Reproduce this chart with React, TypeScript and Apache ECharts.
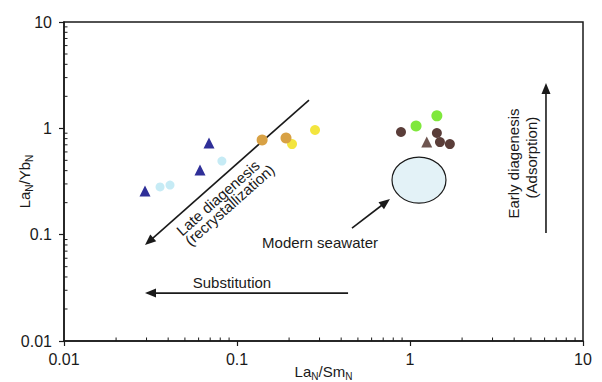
import React, { useEffect, useRef } from "react";
import * as echarts from "echarts";

// ---- axis setup ----
const axisMin = 0.01;
const axisMax = 10;
const tickLabels = ["0.01", "0.1", "1", "10"];
const minorMultipliers = [2, 3, 4, 5, 6, 7, 8, 9];
const decades = [0.01, 0.1, 1];

// ---- data (LaN/SmN, LaN/YbN) ----
const navyTriangles = [
  [0.0294, 0.257],
  [0.0611, 0.405],
  [0.0689, 0.728],
];
const cyanCircles = [
  [0.0359, 0.281],
  [0.041, 0.293],
  [0.0818, 0.492],
];
const yellowCircles = [
  [0.208, 0.711],
  [0.2825, 0.964],
];
const orangeCircles = [
  [0.1397, 0.776],
  [0.192, 0.811],
];
const brownCircles = [
  [0.887, 0.923],
  [1.43, 0.904],
  [1.49, 0.743],
  [1.7, 0.711],
];
const greenCircles = [
  [1.084, 1.05],
  [1.43, 1.31],
];
const brownTriangles = [[1.25, 0.743]];

// ---- annotations (data coordinates) ----
const lateDiagenesisArrow = [
  [0.2607, 1.845],
  [0.0294, 0.0798],
];
const substitutionArrow = [
  [0.4385, 0.0282],
  [0.0294, 0.0282],
];
const seawaterArrow = [
  [0.462, 0.1153],
  [0.766, 0.2163],
];
const earlyDiagenesisArrow = [
  [6.11, 0.1035],
  [6.11, 2.668],
];
const seawaterEllipse = [
  [0.787, 0.198],
  [1.614, 0.537],
];
const annotationTexts = [
  { text: "Late diagenesis", at: [0.0776, 0.2223], angle: 41.5 },
  { text: "(recrystallization)", at: [0.0906, 0.1903], angle: 41.5 },
  { text: "Modern seawater", at: [0.302, 0.0851], angle: 0 },
  { text: "Substitution", at: [0.0935, 0.0358], angle: 0 },
  { text: "Early diagenesis", at: [3.94, 0.4667], angle: 90 },
  { text: "(Adsorption)", at: [5.006, 0.531], angle: 90 },
];

const FONT = "'Liberation Sans', Arial, Helvetica, sans-serif";
const INK = "#1a1a1a";

export default function App() {
  const ref = useRef<HTMLDivElement>(null);

  useEffect(() => {
    if (!ref.current) return;
    const chart = echarts.init(ref.current, null, { renderer: "svg" });

    const minorValues: number[] = [];
    decades.forEach((d) => minorMultipliers.forEach((m) => minorValues.push(+(d * m).toPrecision(3))));

    const fmt = (v: number) => {
      const idx = Math.round(Math.log10(v) - Math.log10(axisMin));
      return tickLabels[idx] ?? String(v);
    };

    const renderAnnotations = (_params: any, api: any) => {
      const P = (p: number[]) => api.coord(p);
      const children: any[] = [];
      const arrow = (from: number[], to: number[]) => {
        const a = P(from);
        const b = P(to);
        const dx = b[0] - a[0];
        const dy = b[1] - a[1];
        const len = Math.hypot(dx, dy);
        const ux = dx / len;
        const uy = dy / len;
        const hl = 11;
        const hw = 4.5;
        const bx = b[0] - ux * hl;
        const by = b[1] - uy * hl;
        children.push({
          type: "line",
          shape: { x1: a[0], y1: a[1], x2: bx + ux * 2, y2: by + uy * 2 },
          style: { stroke: INK, lineWidth: 1.6 },
        });
        children.push({
          type: "polygon",
          shape: {
            points: [
              [b[0], b[1]],
              [bx - uy * hw, by + ux * hw],
              [bx + uy * hw, by - ux * hw],
            ],
          },
          style: { fill: INK },
        });
      };
      const e1 = P(seawaterEllipse[0]);
      const e2 = P(seawaterEllipse[1]);
      children.push({
        type: "ellipse",
        shape: {
          cx: (e1[0] + e2[0]) / 2,
          cy: (e1[1] + e2[1]) / 2,
          rx: Math.abs(e2[0] - e1[0]) / 2,
          ry: Math.abs(e2[1] - e1[1]) / 2,
        },
        style: { fill: "#e3f2f7", stroke: INK, lineWidth: 1.2 },
      });
      arrow(lateDiagenesisArrow[0], lateDiagenesisArrow[1]);
      arrow(substitutionArrow[0], substitutionArrow[1]);
      arrow(seawaterArrow[0], seawaterArrow[1]);
      arrow(earlyDiagenesisArrow[0], earlyDiagenesisArrow[1]);
      annotationTexts.forEach((t) => {
        const p = P(t.at);
        children.push({
          type: "text",
          x: p[0],
          y: p[1],
          rotation: (t.angle * Math.PI) / 180,
          style: {
            text: t.text,
            fontSize: 15,
            fontFamily: FONT,
            fill: INK,
            align: "center",
            verticalAlign: "middle",
          },
        });
      });
      return { type: "group", children };
    };

    const renderMinorTicks = (params: any, api: any) => {
      const v = minorValues[params.dataIndex];
      const px = api.coord([v, axisMin]);
      const py = api.coord([axisMin, v]);
      return {
        type: "group",
        children: [
          {
            type: "line",
            shape: { x1: px[0], y1: px[1], x2: px[0], y2: px[1] - 3.5 },
            style: { stroke: INK, lineWidth: 1 },
          },
          {
            type: "line",
            shape: { x1: py[0], y1: py[1], x2: py[0] + 3.5, y2: py[1] },
            style: { stroke: INK, lineWidth: 1 },
          },
        ],
      };
    };

    const scatter = (data: number[][], symbol: string, size: number, color: string, border?: string) => ({
      type: "scatter",
      data,
      symbol,
      symbolSize: size,
      itemStyle: {
        color,
        opacity: 1,
        borderColor: border ?? color,
        borderWidth: border ? 1.2 : 0,
      },
      z: 3,
    });

    const axisCommon = {
      type: "log",
      logBase: 10,
      min: axisMin,
      max: axisMax,
      nameLocation: "middle",
      nameMoveOverlap: false,
      axisLine: { show: true, onZero: false, lineStyle: { color: INK, width: 1.5 } },
      axisTick: { show: true, inside: false, length: 5, lineStyle: { color: INK, width: 1.2 } },
      splitLine: { show: false },
      minorTick: { show: false },
      axisLabel: {
        fontSize: 16,
        fontFamily: FONT,
        color: INK,
        formatter: fmt,
        showMinLabel: true,
        showMaxLabel: true,
      },
    };

    const nameStyle = {
      fontSize: 15,
      fontFamily: FONT,
      color: INK,
      rich: {
        m: { fontSize: 15, fontFamily: FONT, color: INK, lineHeight: 20 },
        s: { fontSize: 10, fontFamily: FONT, color: INK, lineHeight: 8, verticalAlign: "bottom" },
      },
    };

    chart.setOption({
      animation: false,
      backgroundColor: "#ffffff",
      grid: {
        left: 64,
        right: 19,
        top: 22,
        bottom: 41,
        containLabel: false,
        outerBoundsMode: "none",
        show: true,
        borderColor: INK,
        borderWidth: 1.5,
        backgroundColor: "transparent",
      },
      xAxis: {
        ...axisCommon,
        name: "{m|La}{s|N}{m|/Sm}{s|N}",
        nameGap: 20,
        nameTextStyle: nameStyle,
        axisLabel: { ...axisCommon.axisLabel, margin: 10 },
      },
      yAxis: {
        ...axisCommon,
        name: "{m|La}{s|N}{m|/Yb}{s|N}",
        nameGap: 30,
        nameTextStyle: nameStyle,
        axisLabel: { ...axisCommon.axisLabel, margin: 12 },
      },
      series: [
        {
          type: "custom",
          renderItem: renderMinorTicks,
          data: minorValues.map((v) => [v, v]),
          clip: false,
          silent: true,
          z: 1,
        },
        {
          type: "custom",
          renderItem: renderAnnotations,
          data: [[1, 1]],
          clip: false,
          silent: true,
          z: 2,
        },
        scatter(cyanCircles, "circle", 9, "#c6ebf5"),
        scatter(navyTriangles, "triangle", 11, "#2f2f98"),
        scatter(yellowCircles, "circle", 10, "#f3e53e"),
        scatter(orangeCircles, "circle", 11, "#d8a144"),
        scatter(greenCircles, "circle", 11, "#7fe83c"),
        scatter(brownCircles, "circle", 10, "#5a3d39"),
        scatter(brownTriangles, "triangle", 11, "#6e5550"),
      ],
    });

    return () => chart.dispose();
  }, []);

  return (
    <div
      ref={ref}
      style={{ position: "fixed", left: 0, top: 0, width: 602, height: 382, background: "#fff" }}
    />
  );
}
